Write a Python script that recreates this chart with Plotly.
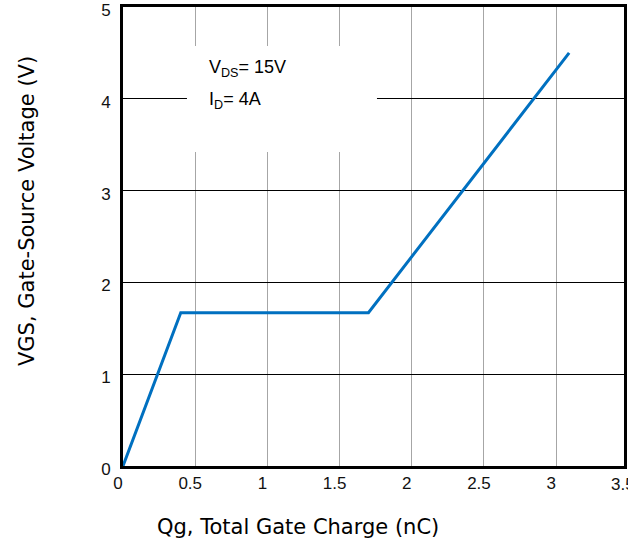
import plotly.graph_objects as go

# Data
qg = [0.0, 0.40, 1.70, 3.09]
vgs = [0.0, 1.67, 1.67, 4.50]

x_ticks = [0, 0.5, 1, 1.5, 2, 2.5, 3]
x_tick_text = ["0", "0.5", "1", "1.5", "2", "2.5", "3"]
x_extra_tick = 3.5
x_extra_text = "3.5"
y_ticks = [0, 1, 2, 3, 4, 5]
y_tick_text = ["0", "1", "2", "3", "4", "5"]

X_MAX = 3.47
Y_MAX = 5

x_title = "Qg, Total Gate Charge (nC)"
y_title = "VGS, Gate-Source Voltage (V)"
cond_lines = ["V<sub>DS</sub>= 15V", "I<sub>D</sub>= 4A"]

W, H = 628, 545
ML, MR, MT, MB = 123, 4, 7, 79

fig = go.Figure()
fig.add_trace(go.Scatter(
    x=qg, y=vgs, mode="lines",
    line=dict(color="#0070C0", width=3),
    showlegend=False, hoverinfo="skip",
))

tick_font = dict(family="Liberation Sans, Arial, sans-serif", size=17, color="#111")

fig.update_xaxes(
    range=[0, X_MAX], tickvals=x_ticks, ticktext=x_tick_text,
    showgrid=True, gridcolor="#A6A6A6", gridwidth=1,
    showline=True, linecolor="black", linewidth=3, mirror=True,
    ticks="", tickfont=tick_font, ticklabelshift=-5, ticklabelstandoff=0,
    ticklabeloverflow="allow", automargin=False,
    zeroline=False,
)
fig.update_yaxes(
    range=[0, Y_MAX], tickvals=y_ticks, ticktext=y_tick_text,
    showgrid=True, gridcolor="black", gridwidth=1,
    showline=True, linecolor="black", linewidth=3, mirror=True,
    ticks="", tickfont=tick_font, ticklabelstandoff=6, ticklabelshift=3,
    ticklabeloverflow="allow", automargin=False,
    zeroline=False,
)

# white box behind the condition text
fig.add_shape(type="rect", xref="x", yref="y",
              x0=0.443, x1=1.759, y0=3.42, y1=4.575,
              fillcolor="white", line=dict(width=0), layer="between")

annotations = []
# extra tick label beyond the visible range (cut off at window edge)
annotations.append(dict(
    x=x_extra_tick / X_MAX, y=0, xref="paper", yref="paper",
    text=x_extra_text, showarrow=False, xanchor="center", yanchor="top",
    xshift=-5, yshift=-7, font=tick_font,
))
# condition text
for i, t in enumerate(cond_lines):
    annotations.append(dict(
        x=0.1677, y=0.867 - i * 0.0697, xref="paper", yref="paper",
        text=t, showarrow=False, xanchor="left", yanchor="middle",
        font=dict(family="Liberation Sans, Arial, sans-serif", size=18, color="black"),
    ))
# axis titles
annotations.append(dict(
    x=0.349, y=-0.133, xref="paper", yref="paper", text=x_title,
    showarrow=False, xanchor="center", yanchor="middle",
    font=dict(family="DejaVu Sans", size=21, color="black"),
))
annotations.append(dict(
    x=-0.192, y=0.555, xref="paper", yref="paper", text=y_title,
    showarrow=False, xanchor="center", yanchor="middle", textangle=-90,
    font=dict(family="DejaVu Sans", size=21, color="black"),
))

fig.update_layout(
    width=W, height=H,
    margin=dict(l=ML, r=MR, t=MT, b=MB),
    paper_bgcolor="white", plot_bgcolor="white",
    annotations=annotations,
)

fig.write_html("out.html")
